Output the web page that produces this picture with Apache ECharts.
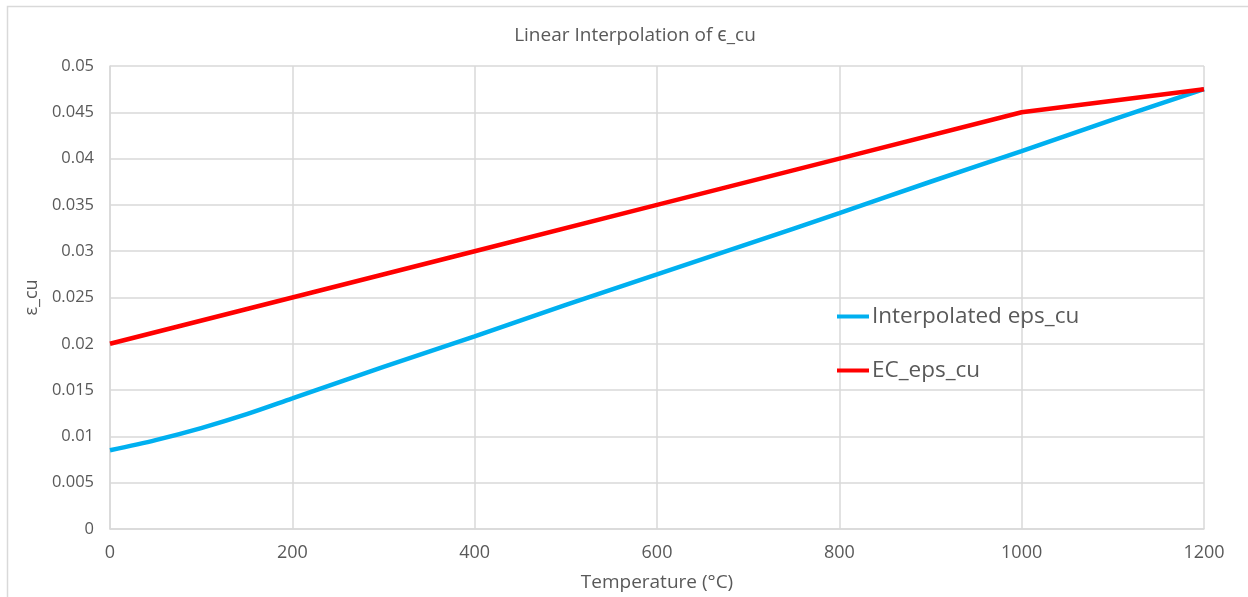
<!DOCTYPE html>
<html>
<head>
<meta charset="utf-8">
<script src="https://cdn.jsdelivr.net/npm/echarts@6/dist/echarts.min.js"></script>
<style>
  html, body { margin: 0; padding: 0; background: #ffffff; }
  #chart { width: 1248px; height: 597px; }
</style>
</head>
<body>
<div id="chart"></div>
<script>
// Temperatures (°C) and strain values for the two curves
const interpTemps = [0, 50, 100, 150, 200, 300, 400, 500, 600, 700, 800, 900, 1000, 1100, 1200];
const interpEps   = [0.0085, 0.0096, 0.0109, 0.0124, 0.0141, 0.0175, 0.0208, 0.0242, 0.0275, 0.0308, 0.0341, 0.0375, 0.0408, 0.0442, 0.0475];
const ecTemps = [0, 200, 400, 600, 800, 1000, 1200];
const ecEps   = [0.020, 0.025, 0.030, 0.035, 0.040, 0.045, 0.0475];

const seriesNames = ['Interpolated eps_cu', 'EC_eps_cu'];
const titleText = 'Linear Interpolation of \u03f5_cu';
const xAxisName = 'Temperature (\u00b0C)';
const yAxisName = '\u03b5_cu';

const pairs = (xs, ys) => xs.map((x, i) => [x, ys[i]]);

const textColor = '#595959';
const gridColor = '#d9d9d9';
const fontFamily = '"Open Sans", "Noto Sans", sans-serif';

const chart = echarts.init(document.getElementById('chart'), null, { renderer: 'canvas' });

chart.setOption({
  backgroundColor: '#ffffff',
  animation: false,
  graphic: [{
    type: 'rect',
    shape: { x: 7.5, y: 6.5, width: 1400, height: 800 },
    style: { fill: 'none', stroke: gridColor, lineWidth: 1.5 },
    silent: true,
    z: -1
  }],
  title: {
    text: titleText,
    left: 630,
    textAlign: 'center',
    top: 21,
    textStyle: { fontFamily: fontFamily, fontSize: 19, fontWeight: 'normal', color: textColor }
  },
  legend: {
    orient: 'vertical',
    left: 832,
    top: 300,
    itemWidth: 32,
    itemHeight: 4,
    itemGap: 31,
    icon: 'rect',
    data: seriesNames,
    textStyle: { fontFamily: fontFamily, fontSize: 22.5, color: textColor, padding: [0, 0, 0, -2] }
  },
  grid: { left: 110, right: 44, top: 66, bottom: 68, containLabel: false, outerBoundsMode: 'none' },
  xAxis: {
    type: 'value',
    min: 0,
    max: 1200,
    interval: 200,
    name: xAxisName,
    nameLocation: 'middle',
    nameGap: 44,
    nameTextStyle: { fontFamily: fontFamily, fontSize: 19, color: textColor },
    axisLine: { show: true, lineStyle: { color: gridColor, width: 1.5 } },
    axisTick: { show: false },
    axisLabel: { fontFamily: fontFamily, fontSize: 18, color: textColor, margin: 15, formatter: v => String(v) },
    splitLine: { show: true, lineStyle: { color: gridColor, width: 1.5 } }
  },
  yAxis: {
    type: 'value',
    min: 0,
    max: 0.05,
    interval: 0.005,
    name: yAxisName,
    nameLocation: 'middle',
    nameGap: 68,
    nameRotate: 90,
    nameTextStyle: { fontFamily: fontFamily, fontSize: 18, color: textColor },
    axisLine: { show: true, lineStyle: { color: gridColor, width: 1.5 } },
    axisTick: { show: false },
    axisLabel: {
      fontFamily: fontFamily, fontSize: 16.5, color: textColor, margin: 16,
      formatter: v => String(parseFloat(v.toFixed(4)))
    },
    splitLine: { show: true, lineStyle: { color: gridColor, width: 1.5 } }
  },
  series: [
    {
      name: seriesNames[0],
      type: 'line',
      data: pairs(interpTemps, interpEps),
      smooth: 0.3,
      showSymbol: false,
      symbol: 'none',
      itemStyle: { color: '#00b0f0' },
      lineStyle: { color: '#00b0f0', width: 4.5 },
      z: 2
    },
    {
      name: seriesNames[1],
      type: 'line',
      data: pairs(ecTemps, ecEps),
      showSymbol: false,
      symbol: 'none',
      itemStyle: { color: '#ff0000' },
      lineStyle: { color: '#ff0000', width: 4.5 },
      z: 3
    }
  ]
});
</script>
</body>
</html>
